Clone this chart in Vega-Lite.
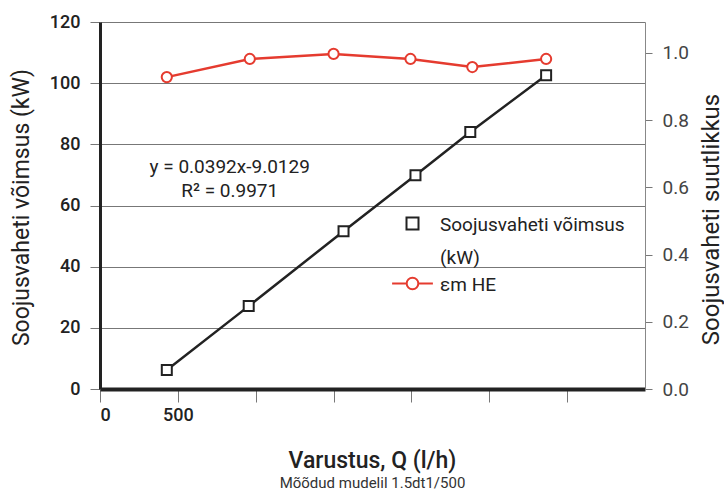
{
  "$schema": "https://vega.github.io/schema/vega-lite/v6.json",
  "width": 545,
  "height": 367,
  "autosize": {"type": "none"},
  "padding": {"left": 100, "top": 22, "right": 79, "bottom": 105},
  "background": "white",
  "config": {"font": "Roboto", "view": {"stroke": null}, "style": {"guide-label": {"lineHeight": 33}}},
  "title": {
    "text": "Varustus, Q (l/h)",
    "subtitle": "Mõõdud mudelil 1.5dt1/500",
    "orient": "bottom",
    "anchor": "middle",
    "fontSize": 23,
    "fontWeight": 500,
    "color": "#222",
    "subtitleFontSize": 15,
    "subtitleColor": "#333",
    "offset": 26,
    "subtitlePadding": 3
  },
  "data": {
    "values": [
      {"series": "Soojusvaheti võimsus (kW)", "Q": 429, "value": 6.2},
      {"series": "Soojusvaheti võimsus (kW)", "Q": 955, "value": 27.1},
      {"series": "Soojusvaheti võimsus (kW)", "Q": 1564, "value": 51.6},
      {"series": "Soojusvaheti võimsus (kW)", "Q": 2026, "value": 69.9},
      {"series": "Soojusvaheti võimsus (kW)", "Q": 2378, "value": 84.0},
      {"series": "Soojusvaheti võimsus (kW)", "Q": 2865, "value": 102.6},
      {"series": "εm HE", "Q": 429, "value": 0.928},
      {"series": "εm HE", "Q": 962, "value": 0.982},
      {"series": "εm HE", "Q": 1500, "value": 0.997},
      {"series": "εm HE", "Q": 1994, "value": 0.982},
      {"series": "εm HE", "Q": 2391, "value": 0.958},
      {"series": "εm HE", "Q": 2865, "value": 0.982}
    ]
  },
  "layer": [
    {
      "encoding": {
        "x": {
          "field": "Q", "type": "quantitative",
          "scale": {"domain": [0, 3500], "nice": false},
          "axis": {
            "values": [0, 500, 1000, 1500, 2000, 2500, 3000],
            "labelExpr": "datum.value <= 500 ? datum.label : ''",
            "format": "d",
            "title": null,
            "grid": false,
            "domainColor": "#222",
            "domainWidth": 4,
            "tickColor": "#777",
            "tickSize": 13,
            "tickWidth": 1,
            "labelFontSize": 18,
            "labelFontWeight": 500,
            "labelColor": "#222",
            "labelPadding": 4
          }
        },
        "y": {
          "field": "value", "type": "quantitative",
          "scale": {"domain": [0, 120], "nice": false},
          "axis": {
            "values": [0, 20, 40, 60, 80, 100, 120],
            "grid": true,
            "gridColor": "#777",
            "gridWidth": 1,
            "domainColor": "#222",
            "domainWidth": 3,
            "tickColor": "#777",
            "tickSize": 10,
            "labelFontSize": 18,
            "labelFontWeight": 500,
            "labelColor": "#222",
            "labelPadding": 10,
            "title": "Soojusvaheti võimsus (kW)",
            "titleFontSize": 23,
            "titleFontWeight": "normal",
            "titleColor": "#222",
            "titleX": -79,
            "titleY": 185,
            "titleAngle": -90,
            "titleAlign": "center",
            "titleBaseline": "middle"
          }
        }
      },
      "layer": [
        {
          "transform": [{"filter": "datum.series == 'Soojusvaheti võimsus (kW)'"}],
          "mark": {"type": "line", "color": "#222", "strokeWidth": 2.5}
        },
        {
          "transform": [{"filter": "datum.series == 'Soojusvaheti võimsus (kW)'"}],
          "mark": {"type": "point", "shape": "square", "fill": "white", "filled": true, "stroke": "#222", "strokeWidth": 2, "size": 100, "opacity": 1}
        },
        {
          "transform": [{"filter": "false"}],
          "mark": {"type": "point", "fill": "white", "filled": true, "strokeWidth": 2, "size": 144, "opacity": 1},
          "encoding": {
            "stroke": {
              "field": "series", "type": "nominal",
              "scale": {"domain": ["Soojusvaheti võimsus (kW)", "εm HE"], "range": ["#222", "#e53b2f"]},
              "legend": {
                "orient": "none", "legendX": 303, "legendY": 199, "title": null, "padding": 0,
                "symbolSize": 144, "symbolStrokeWidth": 2, "symbolFillColor": "white",
                "labelFontSize": 19, "labelColor": "#222", "labelOffset": 18, "labelLimit": 300,
                "labelBaseline": "alphabetic", "rowPadding": 5,
                "labelExpr": "datum.value == 'εm HE' ? datum.label : ['Soojusvaheti võimsus', '(kW)']"
              }
            },
            "shape": {
              "field": "series", "type": "nominal",
              "scale": {"domain": ["Soojusvaheti võimsus (kW)", "εm HE"], "range": ["M-1,-2.167H1V-0.167H-1Z", "M-3.4,-1.167H-0.97M0.97,-1.167H3.4M-0.97,-1.167A0.97,0.97,0,1,1,0.97,-1.167A0.97,0.97,0,1,1,-0.97,-1.167Z"]},
              "legend": {
                "orient": "none", "legendX": 303, "legendY": 199, "title": null, "padding": 0,
                "symbolSize": 144, "symbolStrokeWidth": 2, "symbolFillColor": "white",
                "labelFontSize": 19, "labelColor": "#222", "labelOffset": 18, "labelLimit": 300,
                "labelBaseline": "alphabetic", "rowPadding": 5,
                "labelExpr": "datum.value == 'εm HE' ? datum.label : ['Soojusvaheti võimsus', '(kW)']"
              }
            }
          }
        },
        {
          "transform": [{"filter": "datum.Q == 429 && datum.series == 'Soojusvaheti võimsus (kW)'"}],
          "mark": {"type": "text", "align": "center", "baseline": "alphabetic", "fontSize": 19, "lineHeight": 24, "fill": "#222", "text": ["y = 0.0392x-9.0129", "R² = 0.9971"]},
          "encoding": {
            "x": {"datum": 833},
            "y": {"datum": 70.6}
          }
        }
      ]
    },
    {
      "transform": [{"filter": "datum.series == 'εm HE'"}],
      "encoding": {
        "x": {"field": "Q", "type": "quantitative"},
        "y": {
          "field": "value", "type": "quantitative",
          "scale": {"domain": [0, 1.092], "nice": false},
          "axis": {
            "orient": "right",
            "values": [0, 0.2, 0.4, 0.6, 0.8, 1.0],
            "format": ".1f",
            "grid": false,
            "domainColor": "#888",
            "domainWidth": 1,
            "tickColor": "#777",
            "tickSize": 7,
            "labelFontSize": 19,
            "labelColor": "#444",
            "labelPadding": 10,
            "title": "Soojusvaheti suutlikkus",
            "titleFontSize": 24,
            "titleFontWeight": "normal",
            "titleColor": "#222",
            "titleX": 66,
            "titleY": 197,
            "titleAngle": -90,
            "titleAlign": "center",
            "titleBaseline": "middle"
          }
        }
      },
      "layer": [
        {"mark": {"type": "line", "color": "#e53b2f", "strokeWidth": 2.5}},
        {"mark": {"type": "point", "shape": "circle", "fill": "white", "filled": true, "stroke": "#e53b2f", "strokeWidth": 2, "size": 104, "opacity": 1}}
      ]
    }
  ],
  "resolve": {"scale": {"y": "independent"}}
}
